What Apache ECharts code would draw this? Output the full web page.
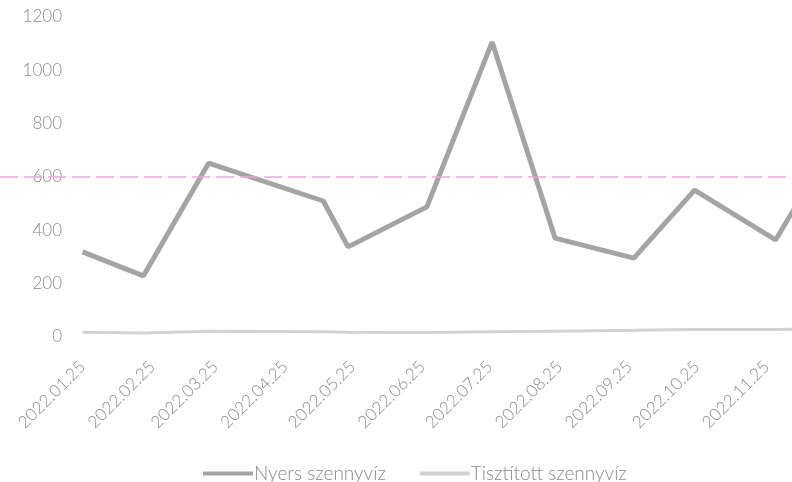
<!DOCTYPE html>
<html>
<head>
<meta charset="utf-8">
<script src="https://cdn.jsdelivr.net/npm/echarts@6/dist/echarts.min.js"></script>
<style>
html,body{margin:0;padding:0;background:#fff;}
#chart{width:792px;height:482px;}
</style>
</head>
<body>
<div id="chart"></div>
<script>
// Sampling dates and values
const sampleDates = ['2022-01-25','2022-02-21','2022-03-22','2022-05-12','2022-05-23','2022-06-27','2022-07-26','2022-08-23','2022-09-27','2022-10-24','2022-11-29','2022-12-20'];
const nyers =       [319, 229, 652, 510, 338, 488, 1106, 371, 296, 551, 364, 660];
const tisztitott =  [18,  15,  22,  20,  18,  17,  20,   22,  25,  28,  28,  30];
const tickDates = ['2022-01-25','2022-02-25','2022-03-25','2022-04-25','2022-05-25','2022-06-25','2022-07-25','2022-08-25','2022-09-25','2022-10-25','2022-11-25'];
const limitValue = 600;
const seriesNames = ['Nyers szennyvíz', 'Tisztított szennyvíz'];

// convert a date string to a day number (days since 2022-01-01, UTC)
const EPOCH = Date.UTC(2022,0,1);
const DAY = 86400000;
function dayNum(s){ const p = s.split('-').map(Number); return (Date.UTC(p[0], p[1]-1, p[2]) - EPOCH)/DAY; }
function pad(n){ return (n<10?'0':'')+n; }
function fmt(v){ const d = new Date(EPOCH + Math.round(v)*DAY); return d.getUTCFullYear()+'.'+pad(d.getUTCMonth()+1)+'.'+pad(d.getUTCDate()); }

const tickDays = tickDates.map(dayNum);
const axisMin = dayNum('2022-01-25') - 36.7;
const axisMax = dayNum('2022-01-25') + 315.3;

const chart = echarts.init(document.getElementById('chart'), null, {renderer:'canvas'});
const font = 'Lato, "Open Sans", sans-serif';
chart.setOption({
  backgroundColor:'#ffffff',
  animation:false,
  grid:{left:0, right:0, top:17, bottom:145, containLabel:false},
  legend:{
    data:seriesNames,
    top:459,
    left:198,
    icon:'rect',
    itemWidth:50,
    itemHeight:4,
    itemGap:34,
    textStyle:{color:'#8a8a8a', fontSize:19, fontFamily:font, fontWeight:300, padding:[0,0,0,-4]}
  },
  xAxis:{
    type:'value',
    min:axisMin,
    max:axisMax,
    axisLine:{show:false},
    axisTick:{show:false},
    splitLine:{show:false},
    axisLabel:{
      customValues:tickDays,
      formatter:function(v){ return fmt(v); },
      rotate:45,
      margin:27,
      color:'#8a8a8a',
      fontSize:17,
      fontFamily:font,
      fontWeight:300,
      showMinLabel:true,
      showMaxLabel:true,
      hideOverlap:false
    }
  },
  yAxis:{
    type:'value',
    min:0,
    max:1200,
    interval:200,
    axisLine:{show:false},
    axisTick:{show:false},
    splitLine:{show:false},
    axisLabel:{
      inside:true,
      align:'right',
      margin:62,
      formatter:function(v){ return String(v); },
      color:'#8a8a8a',
      fontSize:17,
      fontFamily:font,
      fontWeight:300
    }
  },
  series:[
    {
      name:seriesNames[0],
      type:'line',
      data:sampleDates.map((d,i)=>[dayNum(d), nyers[i]]),
      showSymbol:false,
      symbol:'none',
      lineStyle:{color:'#a2a5a2', width:5},
      itemStyle:{color:'#a2a5a2'},
      z:3,
      markLine:{
        silent:true,
        symbol:'none',
        label:{show:false},
        lineStyle:{color:'#f2a2e4', type:[18,6], width:1.5},
        data:[{yAxis:limitValue}]
      }
    },
    {
      name:seriesNames[1],
      type:'line',
      data:sampleDates.map((d,i)=>[dayNum(d), tisztitott[i]]),
      showSymbol:false,
      symbol:'none',
      lineStyle:{color:'#d2d2d2', width:3},
      itemStyle:{color:'#d2d2d2'},
      z:2
    }
  ]
});
</script>
</body>
</html>
